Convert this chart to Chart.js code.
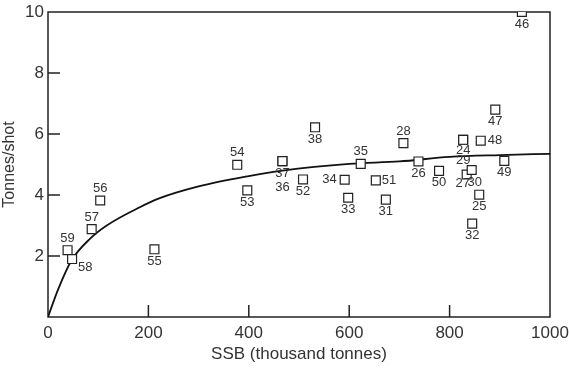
<!DOCTYPE html>
<html lang="en">
<head>
    <meta charset="UTF-8">
    <title>Tonnes/shot vs SSB</title>
    <script src="https://cdn.jsdelivr.net/npm/chart.js"></script>
    <style>
        html, body { margin: 0; padding: 0; background: #fff; }
    </style>
</head>
<body>
    <canvas id="myChart" width="570" height="370"></canvas>

<script>
    // years (labels on the squares), SSB and tonnes/shot
    var anos = ['59', '58', '57', '56', '55', '54', '53', '37', '36', '52', '38', '34', '33', '35', '51',
        '31', '28', '26', '50', '24', '29', '27', '30', '25', '32', '48', '47', '49', '46'];
    var ssb = [39, 48, 87, 104, 212, 377, 397, 467, 467, 508, 532, 591, 598, 623, 653,
        673, 708, 738, 779, 827, 827, 834, 844, 859, 845, 862, 891, 909, 944];
    var toneladas = [2.19, 1.90, 2.88, 3.82, 2.22, 4.99, 4.15, 5.11, 5.11, 4.51, 6.22, 4.50, 3.91, 5.02, 4.48,
        3.85, 5.70, 5.10, 4.79, 5.81, 5.81, 4.67, 4.82, 4.01, 3.06, 5.78, 6.80, 5.12, 10.0];

    // fitted curve
    var curva_ssb = [0, 20, 47, 84, 117, 183, 220, 300, 400, 467, 600, 700, 800, 900, 1000];
    var curva_toneladas = [0, 0.9, 1.86, 2.57, 3.0, 3.6, 3.88, 4.28, 4.62, 4.80, 5.02, 5.10, 5.25, 5.31, 5.35];

    var ticks_x = [0, 200, 400, 600, 800, 1000];
    var ticks_y = [2, 4, 6, 8, 10];

    // where each year label sits relative to its square (px)
    var rotulo_dx = [0, 13, 0, 0, 0, 0, 0, 0, 0, 0, 0, -15, 0, 0, 13,
        0, 0, 0, 0, 0, 0, -4, 3, 0, 0, 14, 0, 0, 0];
    var rotulo_dy = [-12, 8, -12, -12, 12, -12, 12, 12, 26, 12, 12, 0, 12, -12, 0,
        12, -12, 12, 12, 11, 21, 9, 12, 12, 12, 0, 12, 12, 12];

    Chart.defaults.font.family = "'Liberation Sans', 'DejaVu Sans', sans-serif";
    Chart.defaults.color = '#333';

    var pontos = [];
    for (var i = 0; i < anos.length; i++) {
        pontos.push({ x: ssb[i], y: toneladas[i] });
    }
    var curva = [];
    for (var j = 0; j < curva_ssb.length; j++) {
        curva.push({ x: curva_ssb[j], y: curva_toneladas[j] });
    }

    const moldura = {
        id: 'moldura',
        beforeDatasetsDraw(chart) {
            const ctx = chart.ctx;
            const a = chart.chartArea;
            const x = chart.scales.x;
            const y = chart.scales.y;
            ctx.save();
            ctx.strokeStyle = '#222';
            ctx.lineWidth = 1.5;
            ctx.strokeRect(a.left, a.top, a.right - a.left, a.bottom - a.top);
            ctx.beginPath();
            ticks_y.forEach(function (v) {
                if (v > 0 && v < 10) {
                    var py = y.getPixelForValue(v);
                    ctx.moveTo(a.left, py);
                    ctx.lineTo(a.left + 12, py);
                }
            });
            ticks_x.forEach(function (v) {
                if (v > 0 && v < 1000) {
                    var px = x.getPixelForValue(v);
                    ctx.moveTo(px, a.bottom);
                    ctx.lineTo(px, a.bottom - 12);
                }
            });
            ctx.stroke();
            ctx.restore();
        },
        afterDatasetsDraw(chart) {
            const ctx = chart.ctx;
            const meta = chart.getDatasetMeta(0);
            ctx.save();
            ctx.fillStyle = '#333';
            ctx.font = "13px 'Liberation Sans', sans-serif";
            ctx.textBaseline = 'middle';
            meta.data.forEach(function (p, k) {
                var dx = rotulo_dx[k];
                ctx.textAlign = dx > 5 ? 'left' : (dx < -5 ? 'right' : 'center');
                var ox = dx > 5 ? dx - 7 : (dx < -5 ? dx + 7 : dx);
                ctx.fillText(anos[k], p.x + ox, p.y + rotulo_dy[k]);
            });
            ctx.restore();
        }
    };

    const ctx = document.getElementById('myChart');

    new Chart(ctx, {
        type: 'scatter',
        data: {
            datasets: [{
                label: 'Anos',
                data: pontos,
                pointStyle: 'rect',
                pointRadius: 6.3,
                pointHoverRadius: 6.3,
                backgroundColor: '#fff',
                borderColor: '#222',
                borderWidth: 1.2,
                order: 0
            }, {
                type: 'line',
                label: 'Curva',
                data: curva,
                borderColor: '#111',
                borderWidth: 1.8,
                pointRadius: 0,
                fill: false,
                cubicInterpolationMode: 'monotone',
                order: 1
            }]
        },
        options: {
            responsive: false,
            animation: false,
            layout: { padding: { top: 12, right: 20, left: 0, bottom: 0 } },
            plugins: {
                legend: { display: false },
                tooltip: { enabled: false }
            },
            scales: {
                x: {
                    type: 'linear',
                    min: 0,
                    max: 1000,
                    afterBuildTicks: function (s) { s.ticks = ticks_x.map(function (v) { return { value: v }; }); },
                    afterFit: function (s) { s.height = 53; s.paddingLeft = 0; s.paddingRight = 0; },
                    grid: { display: false, drawTicks: false },
                    border: { display: false },
                    ticks: {
                        padding: 6, maxRotation: 0, color: '#333', font: { size: 17 },
                        callback: function (v) { return String(v); }
                    },
                    title: {
                        display: true,
                        text: 'SSB (thousand tonnes)',
                        color: '#333',
                        font: { size: 17 },
                        padding: { top: 5, bottom: 5 }
                    }
                },
                y: {
                    min: 0,
                    max: 10,
                    afterBuildTicks: function (s) { s.ticks = ticks_y.map(function (v) { return { value: v }; }); },
                    afterFit: function (s) { s.width = 48; s.paddingTop = 0; s.paddingBottom = 0; },
                    grid: { display: false, drawTicks: false },
                    border: { display: false },
                    ticks: {
                        padding: 4, color: '#333', font: { size: 17 },
                        callback: function (v) { return String(v); }
                    },
                    title: {
                        display: true,
                        text: 'Tonnes/shot',
                        color: '#333',
                        font: { size: 16 },
                        padding: { top: 0, bottom: 0 }
                    }
                }
            }
        },
        plugins: [moldura]
    });
</script>
</body>
</html>
